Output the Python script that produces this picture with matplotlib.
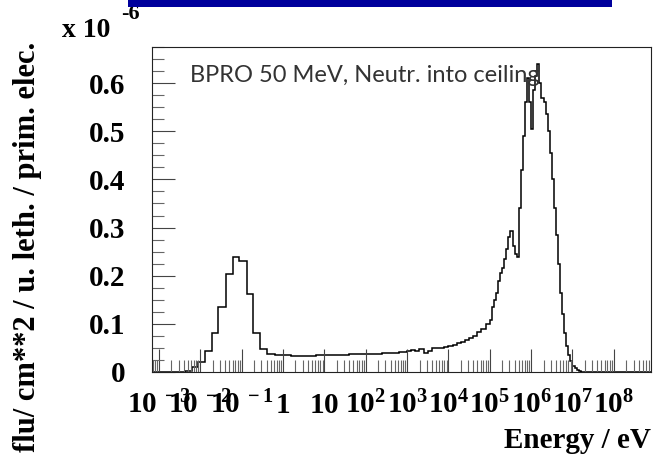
import numpy as np
import matplotlib
matplotlib.use("Agg")
import matplotlib.pyplot as plt
from matplotlib.patches import Rectangle
from matplotlib.ticker import FixedLocator, NullFormatter
import matplotlib.transforms as mtransforms

plt.rcParams['mathtext.fontset'] = 'custom'
plt.rcParams['mathtext.rm'] = 'Liberation Serif:bold'
plt.rcParams['mathtext.it'] = 'Liberation Serif:bold'
plt.rcParams['mathtext.bf'] = 'Liberation Serif:bold'

#bin edges in log10(E/eV) and flux values (x 1e-6)
thermal_edges = [-3.17, -2.571, -2.37, -2.208, -2.048, -1.886, -1.724, -1.563, -1.385,
                 -1.215, -1.055, -0.877, -0.717, -0.554, -0.393, -0.191, 0.0]
thermal_vals = [0.0, 0.001, 0.003, 0.010, 0.021, 0.044, 0.080, 0.136, 0.203,
                0.239, 0.231, 0.162, 0.081, 0.048, 0.037, 0.035]

mid_edges = [0.0, 0.2, 0.4, 0.6, 0.8, 1.0, 1.2, 1.4, 1.6, 1.8, 2.0, 2.2, 2.4, 2.6, 2.8, 3.0,
             3.1, 3.2, 3.3, 3.4, 3.5, 3.6, 3.7, 3.8, 3.9, 4.0, 4.1, 4.2, 4.3, 4.4, 4.5,
             4.6, 4.7, 4.8, 4.9, 5.0]
mid_vals = [0.035, 0.034, 0.034, 0.034, 0.035, 0.035, 0.036, 0.036, 0.037, 0.037,
            0.038, 0.038, 0.039, 0.040, 0.041,
            0.044, 0.046, 0.043, 0.047, 0.039, 0.043, 0.049, 0.050, 0.050, 0.052,
            0.055, 0.056, 0.060, 0.062, 0.066, 0.070, 0.075, 0.083, 0.090, 0.100]

fast_edges = [5.0, 5.05, 5.1, 5.15, 5.2, 5.25, 5.3, 5.35, 5.4, 5.45, 5.5, 5.55, 5.6, 5.65,
              5.7, 5.75, 5.8, 5.85, 5.9, 5.95, 6.0, 6.05, 6.1, 6.15, 6.2, 6.25, 6.3, 6.35,
              6.4, 6.45, 6.5, 6.55, 6.6, 6.65, 6.7, 6.75, 6.8, 6.85, 6.9, 6.95, 7.0, 7.05,
              7.1, 7.15, 7.2, 7.3, 8.9]
fast_vals = [0.108, 0.135, 0.150, 0.165, 0.190, 0.205, 0.215, 0.235, 0.255, 0.280,
             0.292, 0.262, 0.245, 0.238, 0.340, 0.420, 0.490, 0.560, 0.610, 0.560,
             0.505, 0.585, 0.615, 0.640, 0.600, 0.570, 0.560, 0.535, 0.500, 0.455,
             0.400, 0.340, 0.285, 0.225, 0.165, 0.120, 0.080, 0.055, 0.035, 0.022,
             0.013, 0.008, 0.005, 0.003, 0.001, 0.0]

decades = [-3, -2, -1, 0, 1, 2, 3, 4, 5, 6, 7, 8]
xlabels = [r'$10^{\;-3}$', r'$10^{\;-2}$', r'$10^{\;-1}$', r'$1$', r'$10$', r'$10^{2}$',
           r'$10^{3}$', r'$10^{4}$', r'$10^{5}$', r'$10^{6}$', r'$10^{7}$', r'$10^{8}$']
yticks = [0, 0.1, 0.2, 0.3, 0.4, 0.5, 0.6]
ylabels = ['0', '0.1', '0.2', '0.3', '0.4', '0.5', '0.6']

edges = thermal_edges + mid_edges[1:] + fast_edges[1:]
vals = thermal_vals + mid_vals + fast_vals

fig = plt.figure(figsize=(6.57, 4.62), dpi=100)
ax = fig.add_axes([152/657, 90/462, 499/657, 325/462])

ax.stairs(vals, 10.0**np.array(edges), color='black', lw=1.1, baseline=None)

ax.set_xscale('log')
ax.set_xlim(10**-3.17, 10**8.9)
ax.set_ylim(0, 0.675)

serif = 'Liberation Serif'
ax.set_yticks(yticks)
ax.set_yticklabels(ylabels, fontsize=21, fontweight='bold', family=serif)
ax.yaxis.set_minor_locator(FixedLocator(np.arange(0, 0.676, 0.025)))
ax.tick_params(axis='y', which='major', direction='in', length=16.5, width=0.8,
               color='#444444', pad=19, left=True, right=False)
ax.tick_params(axis='y', which='minor', direction='in', length=8.5, width=0.8,
               color='#666666', left=True, right=False)

ax.xaxis.set_major_locator(FixedLocator([10.0**d for d in decades]))
minors = [m * 10.0**d for d in range(-4, 9) for m in range(2, 10)]
ax.xaxis.set_minor_locator(FixedLocator(minors))
ax.xaxis.set_major_formatter(NullFormatter())
ax.xaxis.set_minor_formatter(NullFormatter())
ax.tick_params(axis='x', which='major', direction='in', length=16.5, width=0.8,
               color='#444444', bottom=True, top=False)
ax.tick_params(axis='x', which='minor', direction='in', length=8.5, width=0.8,
               color='#666666', bottom=True, top=False)

trans = mtransforms.blended_transform_factory(ax.transData, ax.transAxes)
for d, lab in zip(decades, xlabels):
    ax.text(10.0**d, -0.126, lab, transform=trans, ha='center', va='baseline',
            fontsize=21)

for s in ax.spines.values():
    s.set_linewidth(0.8)
    s.set_color('#222222')

ax.text(0.076, 0.911, 'BPRO 50 MeV, Neutr. into ceiling', transform=ax.transAxes,
        fontsize=17, family='Lato', fontweight='normal', va='center', ha='left',
        color='#333333')

fig.text(651/657, (462-448)/462, 'Energy / eV', ha='right', va='baseline',
         fontsize=21, fontweight='bold', family=serif)
fig.text(28/657, (462-42)/462, 'flu/ cm**2 / u. leth. / prim. elec.', rotation=90,
         ha='center', va='top', fontsize=22, fontweight='bold', family=serif)

fig.text(62/657, (462-37)/462, 'x 10', ha='left', va='baseline',
         fontsize=20, fontweight='bold', family=serif)
fig.text(121/657, (462-19)/462, '-6', ha='left', va='baseline',
         fontsize=16, fontweight='bold', family=serif)
fig.add_artist(Rectangle((128/657, 455/462), (612-128)/657, 7/462,
                         transform=fig.transFigure, facecolor='#00009C',
                         edgecolor='none', zorder=10))

fig.savefig('out.png', dpi=100)
